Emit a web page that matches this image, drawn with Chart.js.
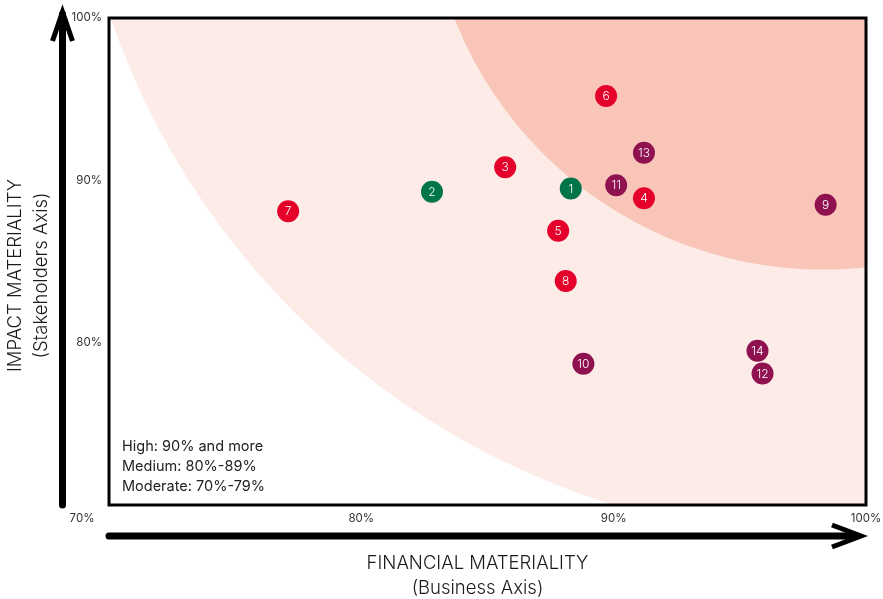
<!DOCTYPE html>
<html lang="en">
<head>
    <meta charset="UTF-8">
    <title>Materiality Matrix</title>
    <script src="https://cdn.jsdelivr.net/npm/chart.js"></script>
    <style>
        html, body { margin: 0; padding: 0; background: white; }
        #matrix { display: block; }
    </style>
</head>
<body>
    <canvas id="matrix" width="883" height="599"></canvas>

    <script>
        // topic numbers and their scores (financial = x, impact = y, in %)
        const topicIds  = [1, 2, 3, 4, 5, 6, 7, 8, 9, 10, 11, 12, 13, 14];
        const financial = [88.3, 82.8, 85.7, 91.2, 87.8, 89.7, 77.1, 88.1, 98.4, 88.8, 90.1, 95.9, 91.2, 95.7];
        const impact    = [89.5, 89.3, 90.8, 88.9, 86.9, 95.2, 88.1, 83.8, 88.5, 78.7, 89.7, 78.1, 91.7, 79.5];
        const topicGroup = ['green', 'green', 'red', 'red', 'red', 'red', 'red', 'red',
                            'plum', 'plum', 'plum', 'plum', 'plum', 'plum'];
        const groupColors = { green: '#00754a', red: '#e4002b', plum: '#8f1150' };

        const axisTicks = [70, 80, 90, 100];
        const legendLines = ['High: 90% and more', 'Medium: 80%-89%', 'Moderate: 70%-79%'];

        // shaded zones, ellipses in data units (centre x, centre y, radius x, radius y)
        const mediumZone = { cx: 99.0, cy: 115.5, rx: 30.6, ry: 47.6, color: '#fcebe6' };
        const highZone   = { cx: 98.3, cy: 108.9, rx: 15.7, ry: 24.4, color: '#f8c5b8' };

        const points = financial.map((x, i) => ({ x: x, y: impact[i] }));
        const FONT = 'Inter, "Liberation Sans", sans-serif';

        const zonesPlugin = {
            id: 'zones',
            beforeDatasetsDraw(chart) {
                const { ctx, chartArea, scales } = chart;
                ctx.save();
                ctx.beginPath();
                ctx.rect(chartArea.left, chartArea.top, chartArea.width, chartArea.height);
                ctx.clip();
                [mediumZone, highZone].forEach(z => {
                    const cx = scales.x.getPixelForValue(z.cx);
                    const cy = scales.y.getPixelForValue(z.cy);
                    const rx = Math.abs(scales.x.getPixelForValue(z.cx + z.rx) - cx);
                    const ry = Math.abs(scales.y.getPixelForValue(z.cy + z.ry) - cy);
                    ctx.fillStyle = z.color;
                    ctx.beginPath();
                    ctx.ellipse(cx, cy, rx, ry, 0, 0, Math.PI * 2);
                    ctx.fill();
                });
                ctx.restore();
            }
        };

        const decorPlugin = {
            id: 'decor',
            afterDatasetsDraw(chart) {
                const { ctx, chartArea: a } = chart;
                ctx.save();

                // numbers inside the dots
                ctx.fillStyle = '#ffffff';
                ctx.font = '300 12px ' + FONT;
                ctx.textAlign = 'center';
                ctx.textBaseline = 'middle';
                chart.getDatasetMeta(0).data.forEach((pt, i) => {
                    ctx.fillText(String(topicIds[i]), pt.x, pt.y + 0.5);
                });

                // frame
                ctx.strokeStyle = '#000';
                ctx.lineWidth = 3;
                ctx.strokeRect(a.left, a.top, a.width, a.height);

                // legend text
                ctx.fillStyle = '#222';
                ctx.font = '14.5px ' + FONT;
                ctx.textAlign = 'left';
                legendLines.forEach((t, i) => {
                    ctx.fillText(t, a.left + 13, a.bottom - 58 + i * 20);
                });

                // origin label
                ctx.fillStyle = '#333';
                ctx.font = '11.5px ' + FONT;
                ctx.textAlign = 'center';
                ctx.fillText(axisTicks[0] + '%', a.left - 27, a.bottom + 14);

                // vertical arrow
                ctx.strokeStyle = '#000';
                ctx.lineCap = 'round';
                ctx.lineWidth = 7;
                const vx = a.left - 46.5;
                ctx.beginPath();
                ctx.moveTo(vx, a.bottom);
                ctx.lineTo(vx, a.top - 4);
                ctx.stroke();
                ctx.lineWidth = 5;
                ctx.lineCap = 'butt';
                ctx.lineJoin = 'miter';
                ctx.beginPath();
                ctx.moveTo(vx - 10, a.top + 23);
                ctx.lineTo(vx, a.top - 6);
                ctx.lineTo(vx + 10, a.top + 23);
                ctx.stroke();

                // horizontal arrow
                const hy = a.bottom + 31;
                const tip = a.right - 5;
                ctx.lineWidth = 7;
                ctx.lineCap = 'round';
                ctx.beginPath();
                ctx.moveTo(a.left, hy);
                ctx.lineTo(tip - 4, hy);
                ctx.stroke();
                ctx.lineWidth = 5;
                ctx.lineCap = 'butt';
                ctx.beginPath();
                ctx.moveTo(tip - 29, hy - 11);
                ctx.lineTo(tip, hy);
                ctx.lineTo(tip - 29, hy + 11);
                ctx.stroke();

                // axis titles
                ctx.fillStyle = '#1a1a1a';
                ctx.font = '300 18.5px ' + FONT;
                ctx.textAlign = 'center';
                ctx.textBaseline = 'middle';
                const mx = (a.left + a.right) / 2 - 10;
                ctx.fillText('FINANCIAL MATERIALITY', mx, a.bottom + 58);
                ctx.fillText('(Business Axis)', mx, a.bottom + 83);

                ctx.translate(15.5, (a.top + a.bottom) / 2 + 14);
                ctx.rotate(-Math.PI / 2);
                ctx.fillText('IMPACT MATERIALITY', 0, 0);
                ctx.fillText('(Stakeholders Axis)', 0, 25.5);
                ctx.restore();
            }
        };

        const tickFormat = v => (v === axisTicks[0] ? '' : v + '%');

        new Chart(document.getElementById('matrix'), {
            type: 'scatter',
            data: {
                datasets: [{
                    data: points,
                    backgroundColor: topicGroup.map(g => groupColors[g]),
                    borderWidth: 0,
                    pointRadius: 11,
                    pointHoverRadius: 11
                }]
            },
            options: {
                responsive: false,
                animation: false,
                layout: { padding: { left: 0, right: 17, top: 18, bottom: 0 } },
                plugins: { legend: { display: false }, tooltip: { enabled: false } },
                scales: {
                    x: {
                        type: 'linear',
                        min: axisTicks[0],
                        max: axisTicks[axisTicks.length - 1],
                        afterBuildTicks: s => { s.ticks = axisTicks.map(v => ({ value: v })); },
                        afterFit: s => { s.height = 94; s.paddingLeft = 0; s.paddingRight = 0; },
                        ticks: { callback: tickFormat, padding: 7, color: '#333', font: { size: 11.5, family: FONT } },
                        grid: { display: false, drawTicks: false },
                        border: { display: false }
                    },
                    y: {
                        type: 'linear',
                        min: axisTicks[0],
                        max: axisTicks[axisTicks.length - 1],
                        afterBuildTicks: s => { s.ticks = axisTicks.map(v => ({ value: v })); },
                        afterFit: s => { s.width = 109; s.paddingTop = 0; s.paddingBottom = 0; },
                        ticks: { callback: tickFormat, padding: 7, color: '#333', font: { size: 11.5, family: FONT } },
                        grid: { display: false, drawTicks: false },
                        border: { display: false }
                    }
                }
            },
            plugins: [zonesPlugin, decorPlugin]
        });
    </script>
</body>
</html>
